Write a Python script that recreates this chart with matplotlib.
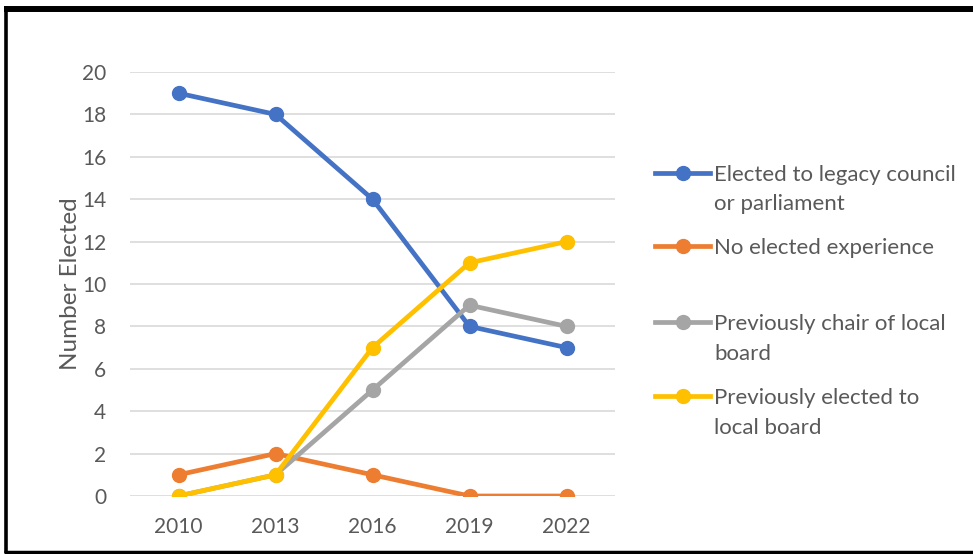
import matplotlib.pyplot as plt
from matplotlib.lines import Line2D

# --- data ---
years = ["2010", "2013", "2016", "2019", "2022"]
legacy = [19, 18, 14, 8, 7]
no_exp = [1, 2, 1, 0, 0]
chair = [0, 1, 5, 9, 8]
local_board = [0, 1, 7, 11, 12]

labels = ["Elected to legacy council\nor parliament",
          "No elected experience",
          "Previously chair of local\nboard",
          "Previously elected to\nlocal board"]
colors = ["#4472C4", "#ED7D31", "#A5A5A5", "#FFC000"]
series = [legacy, no_exp, chair, local_board]

plt.rcParams['font.family'] = ['Lato', 'DejaVu Sans']
text_col = "#595959"

W, H = 973, 554
fig = plt.figure(figsize=(W / 100, H / 100), dpi=100)
ax = fig.add_axes([130 / W, 1 - 496 / H, 485 / W, 424 / H])

x = list(range(len(years)))
for vals, c in zip(series, colors):
    ax.plot(x, vals, color=c, lw=3.4, marker='o', ms=10, solid_capstyle='round')

ax.set_xlim(-0.5, len(years) - 0.5)
ax.set_ylim(0, 20)
ax.set_yticks(range(0, 21, 2))
ax.set_xticks(x)
ax.set_xticklabels(years)
ax.grid(axis='y', color='#D9D9D9', lw=1.2)
ax.set_axisbelow(True)
for s in ax.spines.values():
    s.set_visible(False)
ax.tick_params(length=0, labelsize=15, colors=text_col)
ax.tick_params(axis='x', pad=15)
ax.tick_params(axis='y', pad=17)
ax.set_ylabel("Number Elected", fontsize=17.5, color=text_col, labelpad=1)

# --- legend drawn by hand (handle aligned with first line of text) ---
ys = [173, 246, 322, 396]
for lab, c, y in zip(labels, colors, ys):
    fy = 1 - y / H
    fig.add_artist(Line2D([655 / W, 710 / W], [fy, fy], color=c, lw=3.4,
                          transform=fig.transFigure))
    fig.add_artist(Line2D([683 / W], [fy], color=c, marker='o', ms=10,
                          transform=fig.transFigure))
    for k, line in enumerate(lab.split("\n")):
        fig.text(714 / W, 1 - (y + 29.5 * k) / H, line, fontsize=16,
                 color=text_col, va='center_baseline', ha='left')

# --- black frame ---
frame = dict(color='black', transform=fig.transFigure, solid_capstyle='butt')
fig.add_artist(Line2D([4 / W, 1.01], [1 - 9 / H, 1 - 9 / H], lw=4.3, **frame))
fig.add_artist(Line2D([5.6 / W, 5.6 / W], [1 - 6 / H, 1 - 553 / H], lw=2.6, **frame))
fig.add_artist(Line2D([4 / W, 1.01], [1 - 551.7 / H, 1 - 551.7 / H], lw=2.5, **frame))

fig.savefig("out.png", dpi=100)
